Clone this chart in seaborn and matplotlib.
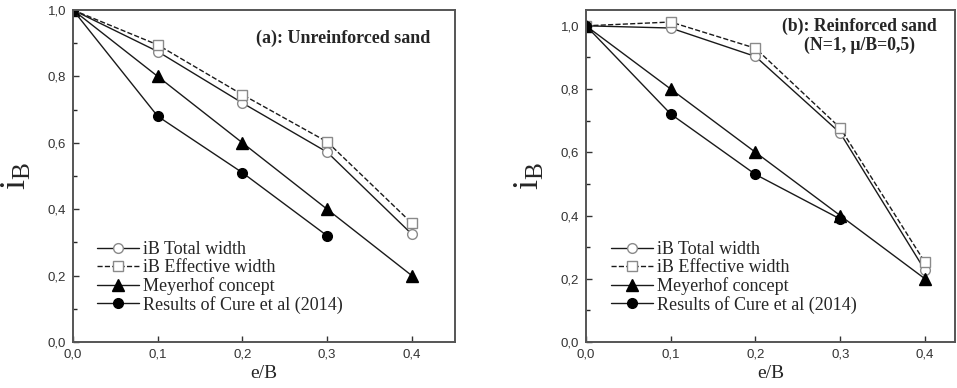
import matplotlib
matplotlib.use("Agg")
import matplotlib.pyplot as plt
import seaborn as sns
import pandas as pd
import numpy as np
from matplotlib.ticker import FuncFormatter, MultipleLocator
from matplotlib.lines import Line2D

# ---- data ----
eB = [0.0, 0.1, 0.2, 0.3, 0.4]
eB_cure = [0.0, 0.1, 0.2, 0.3]

# (a) unreinforced sand
a_total = [1.0, 0.875, 0.72, 0.572, 0.325]
a_effective = [1.0, 0.895, 0.745, 0.603, 0.358]
a_meyerhof = [1.0, 0.8, 0.6, 0.4, 0.2]
a_cure = [1.0, 0.68, 0.51, 0.32]

# (b) reinforced sand
b_total = [1.0, 0.993, 0.903, 0.661, 0.227]
b_effective = [1.0, 1.012, 0.929, 0.677, 0.252]
b_meyerhof = [1.0, 0.8, 0.6, 0.4, 0.2]
b_cure = [1.0, 0.721, 0.530, 0.389]

labels = ["iB Total width", "iB Effective width", "Meyerhof concept",
          "Results of Cure et al (2014)"]

sns.set_style("ticks")
plt.rcParams['font.family'] = ['Liberation Sans', 'DejaVu Sans']
SERIF = ['Liberation Serif', 'DejaVu Serif']

fig = plt.figure(figsize=(9.57, 3.88), dpi=100)
ax_a = fig.add_axes([73/957, 46/388, 382/957, 332/388])
ax_b = fig.add_axes([586/957, 46/388, 369/957, 332/388])

styles = [
    dict(marker='o', linestyle='-', mfc='white', mec='#8a8a8a', ms=7, mew=1.0),
    dict(marker='s', linestyle='--', mfc='white', mec='#8a8a8a', ms=7, mew=1.0),
    dict(marker='^', linestyle='-', mfc='black', mec='black', ms=8.5, mew=1.0),
    dict(marker='o', linestyle='-', mfc='black', mec='black', ms=7, mew=1.0),
]


def draw(ax, series, ylim, xlim, leg_x):
    for (x, y), st, lab in zip(series, styles, labels):
        sns.lineplot(x=x, y=y, ax=ax, color='#1a1a1a', lw=1.0, label=lab,
                     markerfacecolor=st['mfc'], markeredgecolor=st['mec'],
                     marker=st['marker'], linestyle=st['linestyle'],
                     markersize=st['ms'], markeredgewidth=st['mew'],
                     dashes=False if st['linestyle'] == '-' else (4, 3),
                     legend=False)
    ax.set_xlim(*xlim)
    ax.set_ylim(*ylim)
    ax.xaxis.set_major_locator(MultipleLocator(0.1))
    ax.yaxis.set_major_locator(MultipleLocator(0.2))
    ax.yaxis.set_minor_locator(MultipleLocator(0.1))
    fmt = FuncFormatter(lambda v, p: f"{v:.1f}".replace('.', ','))
    ax.xaxis.set_major_formatter(fmt)
    ax.yaxis.set_major_formatter(fmt)
    ax.tick_params(axis='both', which='major', direction='in', length=4,
                   width=1, labelsize=9.5, colors='#333333', pad=5)
    ax.tick_params(axis='y', which='minor', direction='in', length=3, width=1)
    for s in ax.spines.values():
        s.set_linewidth(1.4)
        s.set_color('#555555')
    ax.set_xlabel('e/B', fontsize=14, family=SERIF, labelpad=3)
    ax.set_ylabel(r'$\mathregular{i_B}$', fontsize=26, family=SERIF, labelpad=10)

    handles = [Line2D([], [], color='#1a1a1a', lw=1.0, marker=st['marker'],
                      linestyle=st['linestyle'], mfc=st['mfc'], mec=st['mec'],
                      ms=st['ms'], mew=st['mew'])
               for st in styles]
    ax.legend(handles, labels, loc='lower left', bbox_to_anchor=(leg_x, 0.085),
              frameon=False, prop={'family': SERIF, 'size': 13},
              handlelength=2.3, handletextpad=0.25, labelspacing=0.05,
              borderaxespad=0, borderpad=0)


draw(ax_a, [(eB, a_total), (eB, a_effective), (eB, a_meyerhof), (eB_cure, a_cure)],
     (0.0, 1.0), (0.0, 0.451), 0.063)
draw(ax_b, [(eB, b_total), (eB, b_effective), (eB, b_meyerhof), (eB_cure, b_cure)],
     (0.0, 1.05), (0.0, 0.4355), 0.068)

ax_a.text(0.935, 0.916, '(a): Unreinforced sand', transform=ax_a.transAxes,
          ha='right', va='center', fontsize=13, fontweight='bold', family=SERIF)
ax_b.text(0.74, 0.923, '(b): Reinforced sand\n(N=1, \u03bc/B=0,5)',
          transform=ax_b.transAxes, ha='center', va='center', fontsize=12.7,
          fontweight='bold', family=SERIF, linespacing=1.1)

fig.savefig('out.png', dpi=100)
